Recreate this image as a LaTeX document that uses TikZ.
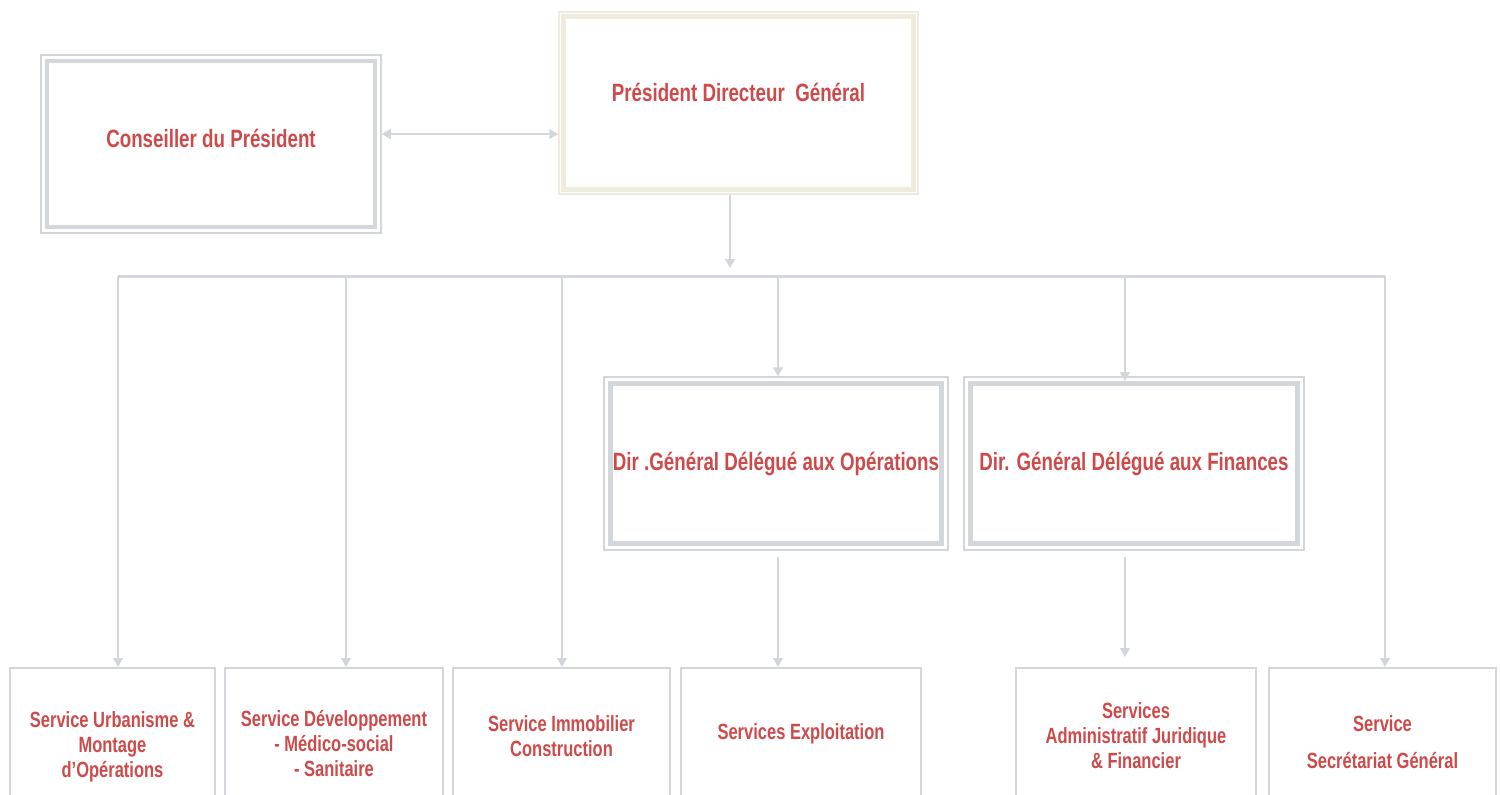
\documentclass[tikz,border=0pt]{standalone}
\usepackage{fontspec}
\setmainfont{Liberation Sans}[FakeStretch=0.75]
\usetikzlibrary{arrows.meta,fit}
\definecolor{orgline}{HTML}{D3D6DA}
\definecolor{orgcream}{HTML}{EFECDD}
\definecolor{orgtext}{HTML}{CE4A4A}

\tikzset{
  headbox/.style={draw=orgline, line width=2.5pt, fill=white, inner sep=0pt,
    font=\fontsize{12.5}{15}\selectfont\bfseries, text=orgtext, align=center},
  outerframe/.style={draw=orgline, line width=0.75pt, inner sep=2pt},
  svcbox/.style={draw=orgline, line width=1pt, anchor=north, minimum height=74pt,
    inner sep=0pt, font=\fontsize{11}{12.5}\selectfont\bfseries, text=orgtext, align=center},
  link/.style={draw=orgline, line width=0.75pt, -{Triangle[width=5pt,length=4.5pt]}},
  bus/.style={draw=orgline, line width=1.5pt}
}

\begin{document}
\begin{tikzpicture}[x=0.5pt, y=-0.5pt]
  \useasboundingbox (0,0) rectangle (1500,794);
  \clip (0,0) rectangle (1500,794);

  % Top boxes
  \node[headbox, line width=2pt, minimum width=164pt, minimum height=83pt,
    text height=9pt, text depth=6pt] (cons) at (211,144) {Conseiller du Président};
  \node[outerframe, fit=(cons)] (consf) {};
  \node[headbox, draw=orgcream, minimum width=175pt, minimum height=86.5pt,
    text height=9pt, text depth=11pt] (pdg) at (738.5,103) {Président Directeur~ Général};
  \node[outerframe, draw=orgcream, inner sep=1pt, fit=(pdg)] (pdgf) {};

  % Delegated directors
  \node[headbox, minimum width=165.5pt, minimum height=80pt] (dgo) at (776,463.5) {Dir .Général Délégué aux Opérations};
  \node[outerframe, fit=(dgo)] (dgof) {};
  \node[headbox, minimum width=163.5pt, minimum height=80pt] (dgf) at (1134,463.5) {Dir. Général Délégué aux Finances};
  \node[outerframe, fit=(dgf)] (dgff) {};

  % Services
  \node[svcbox, minimum width=102.5pt, minimum height=79pt] (b1) at (112.5,667) {Service Urbanisme \&\\Montage\\d'Opérations};
  \node[svcbox, minimum width=109pt, minimum height=76pt] (b2) at (334,667) {Service Développement\\- Médico-social\\- Sanitaire};
  \node[svcbox, minimum width=108.5pt, minimum height=68pt] (b3) at (561.5,667) {Service Immobilier\\Construction};
  \node[svcbox, minimum width=120pt, minimum height=66pt] (b4) at (801,667) {Services Exploitation};
  \node[svcbox, minimum width=120pt, minimum height=67.5pt] (b5) at (1136,667) {Services\\Administratif Juridique\\\& Financier};
  \node[svcbox, minimum width=113.5pt] (b6) at (1382.5,667) {Service\\[6pt]Secrétariat Général};

  % Bus junctions
  \coordinate (j0) at (730,268);
  \coordinate (j1) at (118,276);
  \coordinate (j2) at (346,276);
  \coordinate (j3) at (562,276);
  \coordinate (j4) at (778,276);
  \coordinate (j5) at (1125,276);
  \coordinate (j6) at (1385,276);

  % Connectors
  \draw[link, {Triangle[width=5pt,length=4.5pt]}-{Triangle[width=5pt,length=4.5pt]}]
    ([yshift=5pt]consf.east) -- ([yshift=5pt]consf.east -| pdgf.west);
  \draw[link] (pdgf.south -| j0) -- (j0);
  \draw[bus] (j1) -- (j6);
  \draw[link] (j1) -- (j1 |- b1.north);
  \draw[link] (j2) -- (j2 |- b2.north);
  \draw[link] (j3) -- (j3 |- b3.north);
  \draw[link] (j4) -- (j4 |- dgof.north);
  \draw[link] (j5) -- (j5 |- dgf.north);
  \draw[link] (j6) -- (j6 |- b6.north);
  \draw[link] ([yshift=-3pt]dgof.south -| j4) -- (j4 |- b4.north);
  \draw[link] ([yshift=-3pt]dgff.south -| j5) -- ([yshift=5pt]j5 |- b5.north);
\end{tikzpicture}
\end{document}
